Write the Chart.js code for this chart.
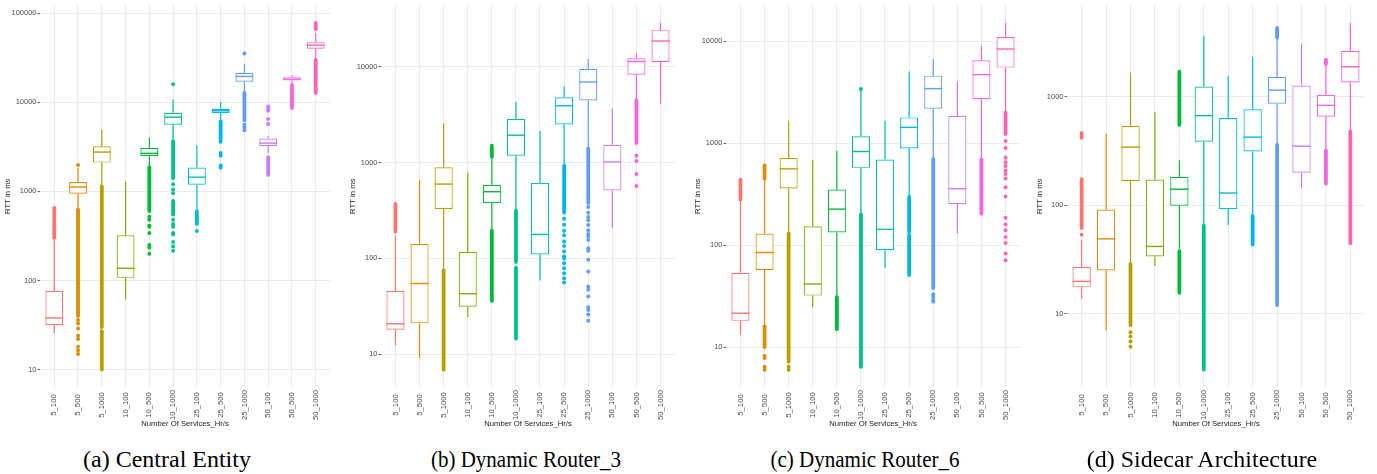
<!DOCTYPE html>
<html>
<head>
<meta charset="utf-8">
<script src="https://cdn.jsdelivr.net/npm/chart.js@4.4.0/dist/chart.umd.min.js"></script>
<style>
  body { margin: 0; background: #fff; width: 1377px; height: 474px; position: relative; overflow: hidden; }
  .panel { position: absolute; top: 0; width: 345px; height: 440px; }
  .cap { position: absolute; top: 447px; width: 340px; text-align: center; font: 24px 'Liberation Serif', 'Times New Roman', serif; line-height: 24px; color: #000; white-space: nowrap; }
  .narrow { transform: scaleX(0.875); }
</style>
</head>
<body>
<div class="panel" style="left:0"><canvas id="c0"></canvas></div>
<div class="panel" style="left:345px"><canvas id="c1"></canvas></div>
<div class="panel" style="left:690px"><canvas id="c2"></canvas></div>
<div class="panel" style="left:1032px"><canvas id="c3"></canvas></div>
<div class="cap" style="left:-3px">(a) Central Entity</div>
<div class="cap narrow" style="left:356px">(b) Dynamic Router_3</div>
<div class="cap narrow" style="left:695px">(c) Dynamic Router_6</div>
<div class="cap" style="left:1032px">(d) Sidecar Architecture</div>
<script>
// categories shared by every panel
const categories = ['5_100', '5_500', '5_1000', '10_100', '10_500', '10_1000', '25_100', '25_500', '25_1000', '50_100', '50_500', '50_1000'];
const hueColors = ['#F8766D', '#DE8C00', '#B79F00', '#7CAE00', '#00BA38', '#00C08B', '#00BFC4', '#00B4F0', '#619CFF', '#C77CFF', '#F564E3', '#FF64B0'];

// (a) Central Entity
const centralTicks = [10, 100, 1000, 10000, 100000];
const centralRange = [6.38, 121600];
const centralLow  = [25.5, 625, 1136, 61.5, 1862, 3650, 625, 6250, 12700, 2667, 16000, 31600];
const centralQ1   = [31.6, 942, 2100, 107, 2490, 5600, 1186, 7550, 16980, 3210, 17540, 39800];
const centralMed  = [38, 1117, 2757, 137, 2667, 6800, 1443, 8010, 19460, 3474, 18150, 43700];
const centralQ3   = [76, 1270, 3210, 321, 3080, 7600, 1850, 8430, 21200, 3915, 19100, 47200];
const centralHigh = [290, 1815, 4930, 1290, 3980, 10700, 3300, 10000, 26700, 4200, 20100, 60000];
const centralRuns = [[[300, 650]], [[40, 625]], [[30, 1136], [10, 27]], [], [[600, 1862]], [[1400, 3650], [550, 780]],
  [[430, 600]], [[3600, 6100]], [[6250, 12700]], [[8000, 9000], [1530, 2400]], [[8600, 15500]], [[12700, 30000], [66000, 77600]]];
const centralDots = [[], [1980, 36, 33, 29, 24, 22, 18, 16.5, 15], [], [], [520, 480, 410, 400, 340, 250, 235, 200],
  [15850, 1200, 1050, 950, 480, 430, 400, 340, 330, 270, 240, 215], [360], [2700, 2500, 1950, 1850],
  [35300, 5600, 5200, 4840], [6500, 5700], [], []];

// (b) Dynamic Router_3
const router3Ticks = [10, 100, 1000, 10000];
const router3Range = [4.55, 43650];
const router3Low  = [12.3, 9.2, 75, 24.5, 200, 320, 59, 931, 1443, 206, 4670, 4110];
const router3Q1   = [18, 21, 329, 31.4, 379, 1181, 110, 2496, 4450, 513, 8260, 11170];
const router3Med  = [20.8, 54.7, 597, 42.8, 497, 1933, 178, 3920, 6940, 1016, 11350, 18580];
const router3Q3   = [45.6, 142, 895, 117, 587, 2850, 611, 4820, 9530, 1535, 12300, 24150];
const router3High = [171, 662, 2570, 789, 1100, 4270, 2143, 6270, 12100, 3680, 13840, 28750];
const router3Runs = [[[190, 370]], [], [[6.9, 75]], [], [[1150, 1500], [36, 195]], [[92, 315], [14.6, 80]],
  [], [[300, 930]], [[380, 1400]], [], [[1600, 4500]], []];
const router3Dots = [[], [], [], [], [], [], [],
  [260, 225, 195, 175, 150, 135, 118, 105, 100, 89, 79, 70, 62, 56],
  [345, 300, 270, 250, 223, 197, 180, 169, 156, 128, 120, 97, 73, 51, 47, 40, 31, 29, 26, 22.3],
  [], [1180, 1040, 760, 570], []];

// (c) Dynamic Router_6
const router6Ticks = [10, 100, 1000, 10000];
const router6Range = [4.06, 22490];
const router6Low  = [13.2, 16.5, 130, 24.6, 31.8, 204, 60, 297, 703, 130, 730, 2010];
const router6Q1   = [18.1, 57, 360, 32, 133, 574, 89.3, 888, 2183, 252, 2710, 5530];
const router6Med  = [21.5, 84.8, 561, 41.6, 226, 830, 143, 1432, 3440, 358, 4720, 8410];
const router6Q3   = [53.7, 130, 719, 153, 352, 1170, 692, 1795, 4610, 1862, 6510, 11020];
const router6High = [275, 441, 1667, 687, 847, 3350, 1667, 5060, 6670, 4010, 8990, 15200];
const router6Runs = [[[280, 440]], [[450, 605], [10, 16]], [[7.2, 130]], [], [[15, 31]], [[6.4, 200]],
  [], [[135, 297], [51, 125]], [[38, 700]], [], [[204, 700]], [[1233, 2000]]];
const router6Dots = [[], [8.2, 7.8, 6.4, 6.0], [6.4, 6.0], [], [], [3400], [], [], [33, 31, 29, 28], [], [],
  [1050, 900, 720, 650, 600, 540, 500, 450, 370, 300, 186, 160, 140, 120, 105, 83, 71]];

// (d) Sidecar Architecture
const sidecarTicks = [10, 100, 1000];
const sidecarRange = [2.13, 6920];
const sidecarLow  = [13.9, 7.0, 29, 27.7, 39.9, 65.2, 66, 81.6, 364, 143, 327, 489];
const sidecarQ1   = [17.8, 25.2, 168, 33.9, 99.3, 385, 92.5, 314, 863, 200, 656, 1352];
const sidecarMed  = [20, 49.2, 344, 41.9, 141, 670, 130, 425, 1151, 351, 833, 1890];
const sidecarQ3   = [27.1, 91.8, 540, 173, 183, 1241, 638, 766, 1524, 1270, 1043, 2635];
const sidecarHigh = [48.2, 456, 1670, 719, 260, 3640, 1556, 2340, 3440, 3100, 1963, 4790];
const sidecarRuns = [[[62, 174], [420, 466]], [], [[7.9, 29]], [], [[550, 1706], [15.7, 38]], [[3.08, 65]],
  [], [[43.6, 80]], [[12.1, 360], [3500, 4300]], [], [[159, 320], [2000, 2200]], [[44.9, 480]]];
const sidecarDots = [[53.6], [], [6.8, 6.2, 5.6, 5.0], [], [], [], [], [], [], [], [], []];

const panels = [
  { id: 'c0', ticks: centralTicks, range: centralRange, low: centralLow, q1: centralQ1, med: centralMed, q3: centralQ3, high: centralHigh, runs: centralRuns, dots: centralDots, axisW: 40, padR: 15 },
  { id: 'c1', ticks: router3Ticks, range: router3Range, low: router3Low, q1: router3Q1, med: router3Med, q3: router3Q3, high: router3High, runs: router3Runs, dots: router3Dots, axisW: 36, padR: 15 },
  { id: 'c2', ticks: router6Ticks, range: router6Range, low: router6Low, q1: router6Q1, med: router6Med, q3: router6Q3, high: router6High, runs: router6Runs, dots: router6Dots, axisW: 36, padR: 15 },
  { id: 'c3', ticks: sidecarTicks, range: sidecarRange, low: sidecarLow, q1: sidecarQ1, med: sidecarMed, q3: sidecarQ3, high: sidecarHigh, runs: sidecarRuns, dots: sidecarDots, axisW: 35, padR: 12 },
];

const FONT = "'Liberation Sans', Arial, sans-serif";

// whiskers, outliers, medians and the centred rotated category labels
function boxExtras(p) {
  return {
    id: 'boxExtras',
    beforeDatasetsDraw(chart) {
      const { ctx, scales: { x, y } } = chart;
      ctx.save();
      categories.forEach((c, i) => {
        const px = x.getPixelForValue(i);
        ctx.strokeStyle = hueColors[i];
        ctx.fillStyle = hueColors[i];
        ctx.lineWidth = 3.8;
        ctx.lineCap = 'round';
        p.runs[i].forEach(([lo, hi]) => {
          ctx.beginPath();
          ctx.moveTo(px, y.getPixelForValue(lo));
          ctx.lineTo(px, y.getPixelForValue(hi));
          ctx.stroke();
        });
        p.dots[i].forEach(v => {
          ctx.beginPath();
          ctx.arc(px, y.getPixelForValue(v), 2, 0, Math.PI * 2);
          ctx.fill();
        });
        ctx.lineWidth = 1.2;
        ctx.lineCap = 'butt';
        ctx.beginPath();
        ctx.moveTo(px, y.getPixelForValue(p.low[i]));
        ctx.lineTo(px, y.getPixelForValue(p.q1[i]));
        ctx.moveTo(px, y.getPixelForValue(p.q3[i]));
        ctx.lineTo(px, y.getPixelForValue(p.high[i]));
        ctx.stroke();
      });
      ctx.restore();
    },
    afterDatasetsDraw(chart) {
      const { ctx, scales: { y } } = chart;
      ctx.save();
      ctx.lineWidth = 1.4;
      chart.getDatasetMeta(0).data.forEach((bar, i) => {
        const { x: bx, width } = bar.getProps(['x', 'width'], true);
        const py = y.getPixelForValue(p.med[i]);
        ctx.strokeStyle = hueColors[i];
        ctx.beginPath();
        ctx.moveTo(bx - width / 2, py);
        ctx.lineTo(bx + width / 2, py);
        ctx.stroke();
      });
      ctx.restore();
    },
    afterDraw(chart) {
      const { ctx, scales: { x } } = chart;
      ctx.save();
      ctx.fillStyle = '#4D4D4D';
      ctx.font = '7.7px ' + FONT;
      ctx.textAlign = 'center';
      ctx.textBaseline = 'middle';
      categories.forEach((c, i) => {
        ctx.save();
        ctx.translate(x.getPixelForTick(i), 405);
        ctx.rotate(-Math.PI / 2);
        ctx.fillText(c, 0, 0);
        ctx.restore();
      });
      ctx.restore();
    }
  };
}

panels.forEach(p => {
  new Chart(document.getElementById(p.id), {
    type: 'bar',
    data: {
      labels: categories,
      datasets: [{
        data: p.q1.map((v, i) => [v, p.q3[i]]),
        backgroundColor: '#ffffff',
        borderColor: hueColors,
        borderWidth: 1.2,
        borderSkipped: false,
        barPercentage: 0.75,
        categoryPercentage: 1,
      }]
    },
    options: {
      responsive: true,
      maintainAspectRatio: false,
      animation: false,
      events: [],
      layout: { padding: { top: 3, right: p.padR, left: 0, bottom: 0 } },
      plugins: { legend: { display: false }, tooltip: { enabled: false } },
      scales: {
        x: {
          type: 'category',
          offset: true,
          // ggplot pads a discrete axis by 0.6 of a step on each side
          afterBuildTicks: s => { s._startValue = -0.6; s._valueRange = categories.length - 1 + 1.2; },
          afterFit: s => { s.height = 53; },
          grid: { color: '#EBEBEB', lineWidth: 1.1, offset: false, drawTicks: false },
          border: { display: false },
          ticks: { display: false },
          title: { display: true, text: 'Number Of Services_Hr/s', color: '#1a1a1a', font: { family: FONT, size: 7.7 }, padding: { top: 0, bottom: 11 } }
        },
        y: {
          type: 'logarithmic',
          min: p.range[0],
          max: p.range[1],
          afterBuildTicks: s => { s.ticks = p.ticks.map(v => ({ value: v })); },
          afterFit: s => { s.width = p.axisW; },
          grid: { color: '#EBEBEB', lineWidth: 1.1, drawTicks: true, tickLength: 2.5, tickColor: '#333333', tickWidth: 0.8 },
          border: { display: false },
          ticks: { color: '#4D4D4D', font: { family: FONT, size: 7.5 }, padding: 1, callback: v => String(v) },
          title: { display: true, text: 'RTT in ms', color: '#1a1a1a', font: { family: FONT, size: 7.7 }, padding: { top: 3, bottom: 0 } }
        }
      }
    },
    plugins: [boxExtras(p)]
  });
});
</script>
</body>
</html>
